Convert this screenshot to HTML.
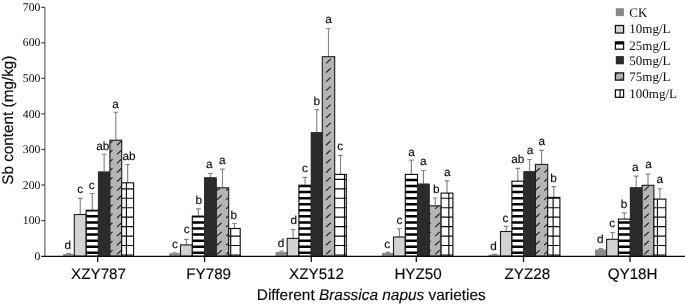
<!DOCTYPE html>
<html><head><meta charset="utf-8"><title>Sb content</title>
<style>html,body{margin:0;padding:0;background:#fff;}svg{display:block;will-change:transform;}text{font-family:"Liberation Sans",sans-serif;fill:#0a0a0a;stroke:#0a0a0a;stroke-width:0.15px;text-rendering:geometricPrecision;}.se{font-family:"Liberation Serif",serif;stroke:none;}</style>
</head><body>
<svg width="685" height="305" viewBox="0 0 685 305">
<rect width="685" height="305" fill="#fff"/>
<g stroke="#858585" stroke-width="1.15" fill="none">
<path d="M68.75 254.30V253.60M66.40 253.60H71.10"/>
<path d="M80.25 214.50V198.40M77.90 198.40H82.60"/>
<path d="M92.30 210.20V193.50M89.95 193.50H94.65"/>
<path d="M104.15 171.60V154.20M101.80 154.20H106.50"/>
<path d="M115.80 140.20V112.20M113.45 112.20H118.15"/>
<path d="M127.65 182.80V164.50M125.30 164.50H130.00"/>
<path d="M174.80 253.50V252.80M172.45 252.80H177.15"/>
<path d="M186.40 244.90V239.30M184.05 239.30H188.75"/>
<path d="M198.40 216.10V208.80M196.05 208.80H200.75"/>
<path d="M210.40 177.40V173.50M208.05 173.50H212.75"/>
<path d="M222.50 187.80V169.10M220.15 169.10H224.85"/>
<path d="M234.45 228.50V223.50M232.10 223.50H236.80"/>
<path d="M281.45 252.10V251.00M279.10 251.00H283.80"/>
<path d="M293.05 238.40V229.50M290.70 229.50H295.40"/>
<path d="M305.05 185.20V177.40M302.70 177.40H307.40"/>
<path d="M316.75 132.20V109.60M314.40 109.60H319.10"/>
<path d="M328.50 56.70V28.50M326.15 28.50H330.85"/>
<path d="M340.50 174.40V155.30M338.15 155.30H342.85"/>
<path d="M387.80 253.00V252.30M385.45 252.30H390.15"/>
<path d="M399.40 237.00V228.70M397.05 228.70H401.75"/>
<path d="M411.40 174.40V160.10M409.05 160.10H413.75"/>
<path d="M423.40 183.70V170.50M421.05 170.50H425.75"/>
<path d="M435.20 205.80V198.00M432.85 198.00H437.55"/>
<path d="M447.00 193.10V180.90M444.65 180.90H449.35"/>
<path d="M494.55 254.80V254.30M492.20 254.30H496.90"/>
<path d="M506.20 231.50V226.30M503.85 226.30H508.55"/>
<path d="M517.85 181.20V168.40M515.50 168.40H520.20"/>
<path d="M529.60 171.30V159.50M527.25 159.50H531.95"/>
<path d="M541.55 164.40V150.30M539.20 150.30H543.90"/>
<path d="M553.80 197.40V186.60M551.45 186.60H556.15"/>
<path d="M600.80 249.60V248.60M598.45 248.60H603.15"/>
<path d="M612.50 239.30V232.50M610.15 232.50H614.85"/>
<path d="M624.35 219.10V212.80M622.00 212.80H626.70"/>
<path d="M636.20 187.30V176.10M633.85 176.10H638.55"/>
<path d="M648.00 185.30V174.10M645.65 174.10H650.35"/>
<path d="M659.85 199.10V188.70M657.50 188.70H662.20"/>
</g>
<rect x="63.20" y="254.30" width="11.10" height="1.80" fill="#8a8a8a"/>
<rect x="63.20" y="254.30" width="11.10" height="1.80" fill="#8a8a8a"/>
<rect x="74.30" y="214.50" width="11.90" height="41.60" fill="#d3d3d3"/>
<rect x="74.30" y="214.50" width="11.90" height="41.60" fill="none" stroke="#1c1c1c" stroke-width="1.1"/>
<rect x="86.20" y="210.20" width="12.20" height="45.90" fill="#ffffff"/>
<path d="M86.20 251.60H98.40V254.10H86.20ZM86.20 245.52H98.40V248.02H86.20ZM86.20 239.44H98.40V241.94H86.20ZM86.20 233.36H98.40V235.86H86.20ZM86.20 227.28H98.40V229.78H86.20ZM86.20 221.20H98.40V223.70H86.20ZM86.20 215.12H98.40V217.62H86.20ZM86.20 210.20H98.40V211.54H86.20Z" fill="#000"/>
<rect x="86.20" y="210.20" width="12.20" height="45.90" fill="none" stroke="#0a0a0a" stroke-width="1.1"/>
<rect x="98.40" y="171.60" width="11.50" height="84.50" fill="#2b2b2b"/>
<rect x="97.90" y="171.60" width="12.50" height="84.50" fill="#2b2b2b"/>
<rect x="109.90" y="140.20" width="11.80" height="115.90" fill="#b4b4b4"/>
<path d="M109.90 143.40L112.51 140.96M109.90 152.49L112.51 150.05M109.90 161.58L112.51 159.14M109.90 170.67L112.51 168.23M109.90 179.76L112.51 177.32M109.90 188.85L112.51 186.41M109.90 197.94L112.51 195.50M109.90 207.03L112.51 204.59M109.90 216.12L112.51 213.68M109.90 225.21L112.51 222.77M109.90 234.30L112.51 231.86M109.90 243.39L112.51 240.95M109.90 252.48L112.51 250.04M117.00 145.26L121.60 140.96M117.00 154.35L121.60 150.05M117.00 163.44L121.60 159.14M117.00 172.53L121.60 168.23M117.00 181.62L121.60 177.32M117.00 190.71L121.60 186.41M117.00 199.80L121.60 195.50M117.00 208.89L121.60 204.59M117.00 217.98L121.60 213.68M117.00 227.07L121.60 222.77M117.00 236.16L121.60 231.86M117.00 245.25L121.60 240.95M117.00 254.34L121.60 250.04" stroke="#1c1c1c" stroke-width="1.1" fill="none"/>
<rect x="109.90" y="140.20" width="11.80" height="115.90" fill="none" stroke="#1c1c1c" stroke-width="1.1"/>
<rect x="121.70" y="182.80" width="11.90" height="73.30" fill="#ffffff"/>
<path d="M126.40 182.80V256.10M121.70 254.95H133.60M121.70 245.50H133.60M121.70 236.05H133.60M121.70 226.60H133.60M121.70 217.15H133.60M121.70 207.70H133.60M121.70 198.25H133.60M121.70 188.80H133.60" stroke="#0a0a0a" stroke-width="1.15" fill="none"/>
<rect x="121.70" y="182.80" width="11.90" height="73.30" fill="none" stroke="#0a0a0a" stroke-width="1.1"/>
<rect x="169.10" y="253.50" width="11.40" height="2.60" fill="#8a8a8a"/>
<rect x="169.10" y="253.50" width="11.40" height="2.60" fill="#8a8a8a"/>
<rect x="180.50" y="244.90" width="11.80" height="11.20" fill="#d3d3d3"/>
<rect x="180.50" y="244.90" width="11.80" height="11.20" fill="none" stroke="#1c1c1c" stroke-width="1.1"/>
<rect x="192.30" y="216.10" width="12.20" height="40.00" fill="#ffffff"/>
<path d="M192.30 251.60H204.50V254.10H192.30ZM192.30 245.52H204.50V248.02H192.30ZM192.30 239.44H204.50V241.94H192.30ZM192.30 233.36H204.50V235.86H192.30ZM192.30 227.28H204.50V229.78H192.30ZM192.30 221.20H204.50V223.70H192.30ZM192.30 216.10H204.50V217.62H192.30Z" fill="#000"/>
<rect x="192.30" y="216.10" width="12.20" height="40.00" fill="none" stroke="#0a0a0a" stroke-width="1.1"/>
<rect x="204.50" y="177.40" width="11.80" height="78.70" fill="#2b2b2b"/>
<rect x="204.00" y="177.40" width="12.80" height="78.70" fill="#2b2b2b"/>
<rect x="216.30" y="187.80" width="12.40" height="68.30" fill="#b4b4b4"/>
<path d="M216.99 190.71L220.10 187.80M216.99 199.80L221.59 195.50M216.99 208.89L221.59 204.59M216.99 217.98L221.59 213.68M216.99 227.07L221.59 222.77M216.99 236.16L221.59 231.86M216.99 245.25L221.59 240.95M216.99 254.34L221.59 250.04M226.08 190.71L228.70 188.26M226.08 199.80L228.70 197.35M226.08 208.89L228.70 206.44M226.08 217.98L228.70 215.53M226.08 227.07L228.70 224.62M226.08 236.16L228.70 233.71M226.08 245.25L228.70 242.80M226.08 254.34L228.70 251.89" stroke="#1c1c1c" stroke-width="1.1" fill="none"/>
<rect x="216.30" y="187.80" width="12.40" height="68.30" fill="none" stroke="#1c1c1c" stroke-width="1.1"/>
<rect x="228.70" y="228.50" width="11.50" height="27.60" fill="#ffffff"/>
<path d="M230.71 228.50V256.10M228.70 254.95H240.20M228.70 245.50H240.20M228.70 236.05H240.20" stroke="#0a0a0a" stroke-width="1.15" fill="none"/>
<rect x="228.70" y="228.50" width="11.50" height="27.60" fill="none" stroke="#0a0a0a" stroke-width="1.1"/>
<rect x="275.70" y="252.10" width="11.50" height="4.00" fill="#8a8a8a"/>
<rect x="275.70" y="252.10" width="11.50" height="4.00" fill="#8a8a8a"/>
<rect x="287.20" y="238.40" width="11.70" height="17.70" fill="#d3d3d3"/>
<rect x="287.20" y="238.40" width="11.70" height="17.70" fill="none" stroke="#1c1c1c" stroke-width="1.1"/>
<rect x="298.90" y="185.20" width="12.30" height="70.90" fill="#ffffff"/>
<path d="M298.90 251.60H311.20V254.10H298.90ZM298.90 245.52H311.20V248.02H298.90ZM298.90 239.44H311.20V241.94H298.90ZM298.90 233.36H311.20V235.86H298.90ZM298.90 227.28H311.20V229.78H298.90ZM298.90 221.20H311.20V223.70H298.90ZM298.90 215.12H311.20V217.62H298.90ZM298.90 209.04H311.20V211.54H298.90ZM298.90 202.96H311.20V205.46H298.90ZM298.90 196.88H311.20V199.38H298.90ZM298.90 190.80H311.20V193.30H298.90ZM298.90 185.20H311.20V187.22H298.90Z" fill="#000"/>
<rect x="298.90" y="185.20" width="12.30" height="70.90" fill="none" stroke="#0a0a0a" stroke-width="1.1"/>
<rect x="311.20" y="132.20" width="11.10" height="123.90" fill="#2b2b2b"/>
<rect x="310.70" y="132.20" width="12.10" height="123.90" fill="#2b2b2b"/>
<rect x="322.30" y="56.70" width="12.40" height="199.40" fill="#b4b4b4"/>
<path d="M326.07 63.45L330.67 59.15M326.07 72.54L330.67 68.24M326.07 81.63L330.67 77.33M326.07 90.72L330.67 86.42M326.07 99.81L330.67 95.51M326.07 108.90L330.67 104.60M326.07 117.99L330.67 113.69M326.07 127.08L330.67 122.78M326.07 136.17L330.67 131.87M326.07 145.26L330.67 140.96M326.07 154.35L330.67 150.05M326.07 163.44L330.67 159.14M326.07 172.53L330.67 168.23M326.07 181.62L330.67 177.32M326.07 190.71L330.67 186.41M326.07 199.80L330.67 195.50M326.07 208.89L330.67 204.59M326.07 217.98L330.67 213.68M326.07 227.07L330.67 222.77M326.07 236.16L330.67 231.86M326.07 245.25L330.67 240.95M326.07 254.34L330.67 250.04" stroke="#1c1c1c" stroke-width="1.1" fill="none"/>
<rect x="322.30" y="56.70" width="12.40" height="199.40" fill="none" stroke="#1c1c1c" stroke-width="1.1"/>
<rect x="334.70" y="174.40" width="11.60" height="81.70" fill="#ffffff"/>
<path d="M344.51 174.40V256.10M334.70 254.95H346.30M334.70 245.50H346.30M334.70 236.05H346.30M334.70 226.60H346.30M334.70 217.15H346.30M334.70 207.70H346.30M334.70 198.25H346.30M334.70 188.80H346.30M334.70 179.35H346.30" stroke="#0a0a0a" stroke-width="1.15" fill="none"/>
<rect x="334.70" y="174.40" width="11.60" height="81.70" fill="none" stroke="#0a0a0a" stroke-width="1.1"/>
<rect x="382.10" y="253.00" width="11.40" height="3.10" fill="#8a8a8a"/>
<rect x="382.10" y="253.00" width="11.40" height="3.10" fill="#8a8a8a"/>
<rect x="393.50" y="237.00" width="11.80" height="19.10" fill="#d3d3d3"/>
<rect x="393.50" y="237.00" width="11.80" height="19.10" fill="none" stroke="#1c1c1c" stroke-width="1.1"/>
<rect x="405.30" y="174.40" width="12.20" height="81.70" fill="#ffffff"/>
<path d="M405.30 251.60H417.50V254.10H405.30ZM405.30 245.52H417.50V248.02H405.30ZM405.30 239.44H417.50V241.94H405.30ZM405.30 233.36H417.50V235.86H405.30ZM405.30 227.28H417.50V229.78H405.30ZM405.30 221.20H417.50V223.70H405.30ZM405.30 215.12H417.50V217.62H405.30ZM405.30 209.04H417.50V211.54H405.30ZM405.30 202.96H417.50V205.46H405.30ZM405.30 196.88H417.50V199.38H405.30ZM405.30 190.80H417.50V193.30H405.30ZM405.30 184.72H417.50V187.22H405.30ZM405.30 178.64H417.50V181.14H405.30ZM405.30 174.40H417.50V175.06H405.30Z" fill="#000"/>
<rect x="405.30" y="174.40" width="12.20" height="81.70" fill="none" stroke="#0a0a0a" stroke-width="1.1"/>
<rect x="417.50" y="183.70" width="11.80" height="72.40" fill="#2b2b2b"/>
<rect x="417.00" y="183.70" width="12.80" height="72.40" fill="#2b2b2b"/>
<rect x="429.30" y="205.80" width="11.80" height="50.30" fill="#b4b4b4"/>
<path d="M429.30 205.86L429.37 205.80M429.30 214.95L430.66 213.68M429.30 224.04L430.66 222.77M429.30 233.13L430.66 231.86M429.30 242.22L430.66 240.95M429.30 251.31L430.66 250.04M435.15 208.89L438.46 205.80M435.15 217.98L439.75 213.68M435.15 227.07L439.75 222.77M435.15 236.16L439.75 231.86M435.15 245.25L439.75 240.95M435.15 254.34L439.75 250.04" stroke="#1c1c1c" stroke-width="1.1" fill="none"/>
<rect x="429.30" y="205.80" width="11.80" height="50.30" fill="none" stroke="#1c1c1c" stroke-width="1.1"/>
<rect x="441.10" y="193.10" width="11.80" height="63.00" fill="#ffffff"/>
<path d="M448.82 193.10V256.10M441.10 254.95H452.90M441.10 245.50H452.90M441.10 236.05H452.90M441.10 226.60H452.90M441.10 217.15H452.90M441.10 207.70H452.90M441.10 198.25H452.90" stroke="#0a0a0a" stroke-width="1.15" fill="none"/>
<rect x="441.10" y="193.10" width="11.80" height="63.00" fill="none" stroke="#0a0a0a" stroke-width="1.1"/>
<rect x="488.60" y="254.80" width="11.90" height="1.30" fill="#8a8a8a"/>
<rect x="488.60" y="254.80" width="11.90" height="1.30" fill="#8a8a8a"/>
<rect x="500.50" y="231.50" width="11.40" height="24.60" fill="#d3d3d3"/>
<rect x="500.50" y="231.50" width="11.40" height="24.60" fill="none" stroke="#1c1c1c" stroke-width="1.1"/>
<rect x="511.90" y="181.20" width="11.90" height="74.90" fill="#ffffff"/>
<path d="M511.90 251.60H523.80V254.10H511.90ZM511.90 245.52H523.80V248.02H511.90ZM511.90 239.44H523.80V241.94H511.90ZM511.90 233.36H523.80V235.86H511.90ZM511.90 227.28H523.80V229.78H511.90ZM511.90 221.20H523.80V223.70H511.90ZM511.90 215.12H523.80V217.62H511.90ZM511.90 209.04H523.80V211.54H511.90ZM511.90 202.96H523.80V205.46H511.90ZM511.90 196.88H523.80V199.38H511.90ZM511.90 190.80H523.80V193.30H511.90ZM511.90 184.72H523.80V187.22H511.90Z" fill="#000"/>
<rect x="511.90" y="181.20" width="11.90" height="74.90" fill="none" stroke="#0a0a0a" stroke-width="1.1"/>
<rect x="523.80" y="171.30" width="11.60" height="84.80" fill="#2b2b2b"/>
<rect x="523.30" y="171.30" width="12.60" height="84.80" fill="#2b2b2b"/>
<rect x="535.40" y="164.40" width="12.30" height="91.70" fill="#b4b4b4"/>
<path d="M535.40 172.29L539.74 168.23M535.40 181.38L539.74 177.32M535.40 190.47L539.74 186.41M535.40 199.56L539.74 195.50M535.40 208.65L539.74 204.59M535.40 217.74L539.74 213.68M535.40 226.83L539.74 222.77M535.40 235.92L539.74 231.86M535.40 245.01L539.74 240.95M535.40 254.10L539.74 250.04M544.23 172.53L547.70 169.29M544.23 181.62L547.70 178.38M544.23 190.71L547.70 187.47M544.23 199.80L547.70 196.56M544.23 208.89L547.70 205.65M544.23 217.98L547.70 214.74M544.23 227.07L547.70 223.83M544.23 236.16L547.70 232.92M544.23 245.25L547.70 242.01M544.23 254.34L547.70 251.10" stroke="#1c1c1c" stroke-width="1.1" fill="none"/>
<rect x="535.40" y="164.40" width="12.30" height="91.70" fill="none" stroke="#1c1c1c" stroke-width="1.1"/>
<rect x="547.70" y="197.40" width="12.20" height="58.70" fill="#ffffff"/>
<path d="M553.13 197.40V256.10M547.70 254.95H559.90M547.70 245.50H559.90M547.70 236.05H559.90M547.70 226.60H559.90M547.70 217.15H559.90M547.70 207.70H559.90M547.70 198.25H559.90" stroke="#0a0a0a" stroke-width="1.15" fill="none"/>
<rect x="547.70" y="197.40" width="12.20" height="58.70" fill="none" stroke="#0a0a0a" stroke-width="1.1"/>
<rect x="595.00" y="249.60" width="11.60" height="6.50" fill="#8a8a8a"/>
<rect x="595.00" y="249.60" width="11.60" height="6.50" fill="#8a8a8a"/>
<rect x="606.60" y="239.30" width="11.80" height="16.80" fill="#d3d3d3"/>
<rect x="606.60" y="239.30" width="11.80" height="16.80" fill="none" stroke="#1c1c1c" stroke-width="1.1"/>
<rect x="618.40" y="219.10" width="11.90" height="37.00" fill="#ffffff"/>
<path d="M618.40 251.60H630.30V254.10H618.40ZM618.40 245.52H630.30V248.02H618.40ZM618.40 239.44H630.30V241.94H618.40ZM618.40 233.36H630.30V235.86H618.40ZM618.40 227.28H630.30V229.78H618.40ZM618.40 221.20H630.30V223.70H618.40Z" fill="#000"/>
<rect x="618.40" y="219.10" width="11.90" height="37.00" fill="none" stroke="#0a0a0a" stroke-width="1.1"/>
<rect x="630.30" y="187.30" width="11.80" height="68.80" fill="#2b2b2b"/>
<rect x="629.80" y="187.30" width="12.80" height="68.80" fill="#2b2b2b"/>
<rect x="642.10" y="185.30" width="11.80" height="70.80" fill="#b4b4b4"/>
<path d="M644.22 190.71L648.82 186.41M644.22 199.80L648.82 195.50M644.22 208.89L648.82 204.59M644.22 217.98L648.82 213.68M644.22 227.07L648.82 222.77M644.22 236.16L648.82 231.86M644.22 245.25L648.82 240.95M644.22 254.34L648.82 250.04M653.31 190.71L653.90 190.16M653.31 199.80L653.90 199.25M653.31 208.89L653.90 208.34M653.31 217.98L653.90 217.43M653.31 227.07L653.90 226.52M653.31 236.16L653.90 235.61M653.31 245.25L653.90 244.70M653.31 254.34L653.90 253.79" stroke="#1c1c1c" stroke-width="1.1" fill="none"/>
<rect x="642.10" y="185.30" width="11.80" height="70.80" fill="none" stroke="#1c1c1c" stroke-width="1.1"/>
<rect x="653.90" y="199.10" width="11.90" height="57.00" fill="#ffffff"/>
<path d="M657.45 199.10V256.10M653.90 254.95H665.80M653.90 245.50H665.80M653.90 236.05H665.80M653.90 226.60H665.80M653.90 217.15H665.80M653.90 207.70H665.80" stroke="#0a0a0a" stroke-width="1.15" fill="none"/>
<rect x="653.90" y="199.10" width="11.90" height="57.00" fill="none" stroke="#0a0a0a" stroke-width="1.1"/>
<g font-size="11.8" text-anchor="middle">
<text x="67.8" y="249.3">d</text>
<text x="80.2" y="192.5">c</text>
<text x="91.8" y="188.5">c</text>
<text x="102.7" y="149.6">ab</text>
<text x="115.6" y="108.3">a</text>
<text x="129.1" y="160.3">ab</text>
<text x="175.0" y="248.1">c</text>
<text x="186.8" y="233.3">c</text>
<text x="198.8" y="203.8">b</text>
<text x="209.4" y="167.9">a</text>
<text x="222.4" y="163.9">a</text>
<text x="233.7" y="219.3">b</text>
<text x="281.0" y="246.9">d</text>
<text x="293.8" y="223.9">d</text>
<text x="304.9" y="172.4">c</text>
<text x="316.7" y="105.0">b</text>
<text x="328.5" y="23.3">a</text>
<text x="340.3" y="149.7">c</text>
<text x="387.2" y="247.8">c</text>
<text x="399.4" y="223.8">c</text>
<text x="411.6" y="155.6">a</text>
<text x="423.4" y="164.9">a</text>
<text x="436.2" y="193.4">b</text>
<text x="447.2" y="175.7">a</text>
<text x="493.5" y="249.9">d</text>
<text x="505.4" y="221.7">c</text>
<text x="517.8" y="162.8">ab</text>
<text x="530.0" y="153.5">a</text>
<text x="541.8" y="144.7">a</text>
<text x="553.6" y="181.5">b</text>
<text x="600.4" y="243.2">d</text>
<text x="612.2" y="227.4">c</text>
<text x="624.0" y="207.8">b</text>
<text x="635.4" y="171.3">a</text>
<text x="648.6" y="168.3">a</text>
<text x="659.8" y="182.7">a</text>
</g>
<line x1="44.9" y1="7.3" x2="44.9" y2="256.1" stroke="#7a7a7a" stroke-width="1.4"/>
<text class="se" x="40.4" y="259.70" font-size="11.7" text-anchor="end">0</text>
<line x1="41.2" y1="220.56" x2="45" y2="220.56" stroke="#3c3c3c" stroke-width="1.1"/>
<text class="se" x="40.4" y="224.16" font-size="11.7" text-anchor="end">100</text>
<line x1="41.2" y1="185.02" x2="45" y2="185.02" stroke="#3c3c3c" stroke-width="1.1"/>
<text class="se" x="40.4" y="188.62" font-size="11.7" text-anchor="end">200</text>
<line x1="41.2" y1="149.48" x2="45" y2="149.48" stroke="#3c3c3c" stroke-width="1.1"/>
<text class="se" x="40.4" y="153.08" font-size="11.7" text-anchor="end">300</text>
<line x1="41.2" y1="113.94" x2="45" y2="113.94" stroke="#3c3c3c" stroke-width="1.1"/>
<text class="se" x="40.4" y="117.54" font-size="11.7" text-anchor="end">400</text>
<line x1="41.2" y1="78.40" x2="45" y2="78.40" stroke="#3c3c3c" stroke-width="1.1"/>
<text class="se" x="40.4" y="82.00" font-size="11.7" text-anchor="end">500</text>
<line x1="41.2" y1="42.86" x2="45" y2="42.86" stroke="#3c3c3c" stroke-width="1.1"/>
<text class="se" x="40.4" y="46.46" font-size="11.7" text-anchor="end">600</text>
<line x1="41.2" y1="7.32" x2="45" y2="7.32" stroke="#3c3c3c" stroke-width="1.1"/>
<text class="se" x="40.4" y="10.92" font-size="11.7" text-anchor="end">700</text>
<line x1="41.2" y1="256.4" x2="685" y2="256.4" stroke="#0a0a0a" stroke-width="1.25"/>
<line x1="97.7" y1="256.1" x2="97.7" y2="262" stroke="#111" stroke-width="1.3"/>
<line x1="204.6" y1="256.1" x2="204.6" y2="262" stroke="#111" stroke-width="1.3"/>
<line x1="311.3" y1="256.1" x2="311.3" y2="262" stroke="#111" stroke-width="1.3"/>
<line x1="416.3" y1="256.1" x2="416.3" y2="262" stroke="#111" stroke-width="1.3"/>
<line x1="523.5" y1="256.1" x2="523.5" y2="262" stroke="#111" stroke-width="1.3"/>
<line x1="630.0" y1="256.1" x2="630.0" y2="262" stroke="#111" stroke-width="1.3"/>
<text x="71.1" y="279.3" font-size="15.2">XZY787</text>
<text x="186.3" y="279.3" font-size="15.2">FY789</text>
<text x="289.1" y="279.3" font-size="15.2">XZY512</text>
<text x="394.4" y="279.3" font-size="15.2">HYZ50</text>
<text x="504.5" y="279.3" font-size="15.2">ZYZ28</text>
<text x="607.7" y="279.3" font-size="15.2">QY18H</text>
<text x="256.8" y="299.5" font-size="15.4">Different <tspan font-style="italic">Brassica napus</tspan> varieties</text>
<text transform="translate(13.1 184.8) rotate(-90)" font-size="15.3">Sb content (mg/kg)</text>
<rect x="615.8" y="8.2" width="8.1" height="7.90" fill="#8a8a8a"/>
<text class="se" x="629.3" y="16.7" font-size="13">CK</text>
<rect x="615.4" y="25.50" width="8.2" height="7.50" fill="#d3d3d3" stroke="#0a0a0a" stroke-width="1.25"/>
<text class="se" x="629.3" y="33.4" font-size="13">10mg/L</text>
<rect x="615.4" y="41.90" width="8.2" height="7.30" fill="#ffffff" stroke="#0a0a0a" stroke-width="1.25"/>
<rect x="615.3" y="41.8" width="8.4" height="2.7" fill="#000"/>
<text class="se" x="629.3" y="49.6" font-size="13">25mg/L</text>
<rect x="615.8" y="56.1" width="8.1" height="8.20" fill="#2b2b2b"/>
<text class="se" x="629.3" y="65.2" font-size="13">50mg/L</text>
<rect x="615.4" y="72.90" width="8.2" height="7.20" fill="#b4b4b4" stroke="#0a0a0a" stroke-width="1.25"/>
<path d="M616 74.60L617.6 73.20M620.2 79.70L621.8 78.30" stroke="#1c1c1c" stroke-width="1" fill="none"/>
<text class="se" x="629.3" y="80.5" font-size="13">75mg/L</text>
<rect x="615.4" y="89.90" width="8.2" height="7.40" fill="#ffffff" stroke="#0a0a0a" stroke-width="1.25"/>
<line x1="620.1" y1="89.8" x2="620.1" y2="97.4" stroke="#0a0a0a" stroke-width="1.15"/>
<text class="se" x="629.3" y="97.8" font-size="13">100mg/L</text>
</svg>
</body></html>
